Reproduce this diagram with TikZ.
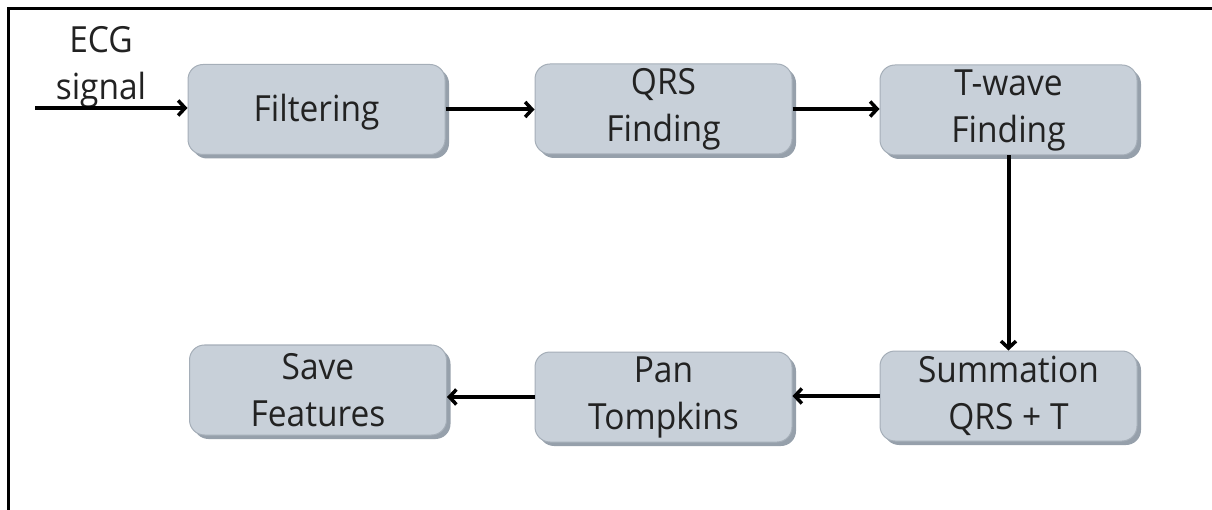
\documentclass[tikz,border=0pt]{standalone}
\usepackage{fontspec}
\setmainfont{Open Sans}[FakeStretch=0.93]
\usetikzlibrary{arrows.meta,shadows}
\definecolor{boxfill}{RGB}{200,208,217}
\definecolor{boxedge}{RGB}{165,174,184}
\definecolor{boxshade}{RGB}{150,160,171}
\definecolor{ink}{RGB}{34,34,34}
\tikzset{
  stage/.style={rectangle, rounded corners=15pt, fill=boxfill, draw=boxedge,
    line width=1pt, minimum width=257pt, minimum height=90pt, inner sep=0pt,
    align=center, text=ink, font=\fontsize{36pt}{47pt}\selectfont,
    drop shadow={shadow xshift=4pt, shadow yshift=-4pt, fill=boxshade, opacity=1}},
  flow/.style={line width=4pt, -{Straight Barb[length=7pt,width=15pt,line width=3.5pt]}},
  frameline/.style={line width=3pt}
}
\begin{document}
\begin{tikzpicture}[x=1pt, y=-1pt]
  \useasboundingbox (0,0) rectangle (1212,510);
  % open frame: left and top edges only
  \coordinate (fl) at (8.5,510);
  \coordinate (ftl) at (8.5,8.5);
  \coordinate (fr) at (1212,8.5);
  \draw[frameline] (fl) -- (ftl) -- (fr);

  % processing stages
  \node[stage, text depth=3pt] (filt) at (316.5,109.5) {Filtering};
  \node[stage] (qrs)  at (663.5,109)   {QRS\\Finding};
  \node[stage] (twav) at (1008.5,110)  {T-wave\\Finding};
  \node[stage] (summ) at (1008.5,396)  {Summation\\QRS + T};
  \node[stage] (pant) at (663.5,397)   {Pan\\Tompkins};
  \node[stage] (save) at (318,390)     {Save\\Features};

  % input signal
  \node[text=ink, font=\fontsize{36pt}{47pt}\selectfont, align=center] (ecg) at (101,67) {ECG\\signal};
  \coordinate (src) at (35,108);

  % connectors
  \draw[flow] (src) -- (src -| filt.west);
  \draw[flow] (filt.east) -- (filt.east -| qrs.west);
  \draw[flow] (qrs.east) -- (qrs.east -| twav.west);
  \draw[flow] (twav.south) -- (summ.north);
  \draw[flow] (summ.west) -- (summ.west -| pant.east);
  \draw[flow] (pant.west) -- (pant.west -| save.east);
\end{tikzpicture}
\end{document}
